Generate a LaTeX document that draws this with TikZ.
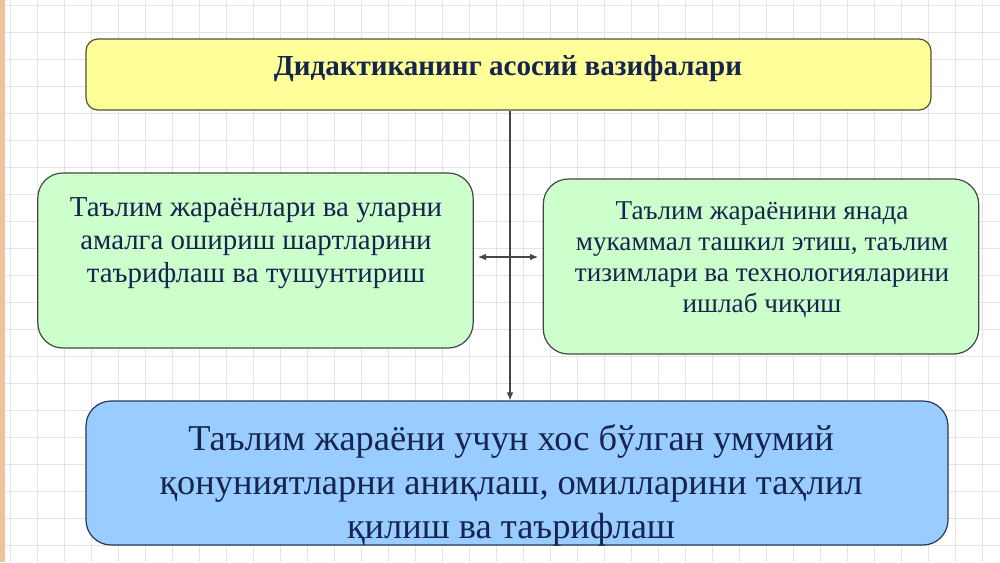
\documentclass[tikz,border=0pt]{standalone}
\usepackage{fontspec}
\setmainfont{DejaVu Serif}
\newfontfamily\libser{Liberation Serif}
\usetikzlibrary{arrows.meta,calc}
\definecolor{txtc}{RGB}{22,36,78}
\definecolor{gridc}{RGB}{228,228,228}
\definecolor{stripc}{RGB}{238,196,160}
\definecolor{yellowf}{RGB}{255,255,153}
\definecolor{greenf}{RGB}{204,255,204}
\definecolor{bluef}{RGB}{153,204,255}
\definecolor{linec}{RGB}{70,70,70}
\tikzset{
  box/.style={draw=linec, line width=0.9pt, inner sep=0pt},
  ybox/.style={box, fill=yellowf, draw={rgb,255:red,80;green,80;blue,50}, rounded corners=9pt, minimum width=633.75pt, minimum height=53.25pt},
  gbox/.style={box, fill=greenf, rounded corners=18.75pt, minimum width=326.5pt, minimum height=131.25pt},
  bbox/.style={box, fill=bluef, draw={rgb,255:red,40;green,55;blue,90}, rounded corners=18.75pt, minimum width=646.5pt, minimum height=108pt},
  txt/.style={text=txtc, align=center, inner sep=0pt},
  conn/.style={draw=linec, line width=0.8pt},
}
\begin{document}
\begin{tikzpicture}[x=0.75pt, y=-0.75pt]
\useasboundingbox (0,0) rectangle (1000,562);
\fill[white] (0,0) rectangle (1000,562);
\foreach \i in {0,...,37} \draw[gridc, line width=0.6pt] ({10+27*\i},0) -- ({10+27*\i},562);
\foreach \j in {0,...,20} \draw[gridc, line width=0.6pt] (0,{5+27*\j}) -- (1000,{5+27*\j});
\fill[stripc] (0,0) rectangle (5,562);

\node[ybox] (T) at (508.5,74.5) {};
\node[txt, font=\libser\fontsize{21.8pt}{24pt}\selectfont\bfseries] (Tt) at (508,69) {Дидактиканинг асосий вазифалари};

\node[gbox] (L) at (255.5,260.5) {};
\node[txt, font=\libser\fontsize{21.7pt}{24.75pt}\selectfont] (Lt) at (256,243) {Таълим жараёнлари ва уларни\\амалга ошириш шартларини\\таърифлаш ва тушунтириш};

\node[gbox] (R) at (761,266.5) {};
\node[txt, font=\libser\fontsize{20.4pt}{23.25pt}\selectfont] (Rt) at (762,260) {Таълим жараёнини янада\\мукаммал ташкил этиш, таълим\\тизимлари ва технологияларини\\ишлаб чиқиш};

\node[bbox] (B) at (517,473) {};
\node[txt, font=\libser\fontsize{27.3pt}{33pt}\selectfont] (Bt) at (511,485) {Таълим жараёни учун хос бўлган умумий\\қонуниятларни аниқлаш, омилларини таҳлил\\қилиш ва таърифлаш};

\coordinate (vtop) at (T.south -| 510,0);
\coordinate (vbot) at (B.north -| 510,0);
\draw[conn, -{Latex[length=6pt,width=5pt]}] (vtop) -- (vbot);
\coordinate (ha) at (478,257);
\coordinate (hb) at (538,257);
\draw[conn, {Latex[length=6pt,width=5pt]}-{Latex[length=6pt,width=5pt]}] (ha) -- (hb);
\end{tikzpicture}
\end{document}
